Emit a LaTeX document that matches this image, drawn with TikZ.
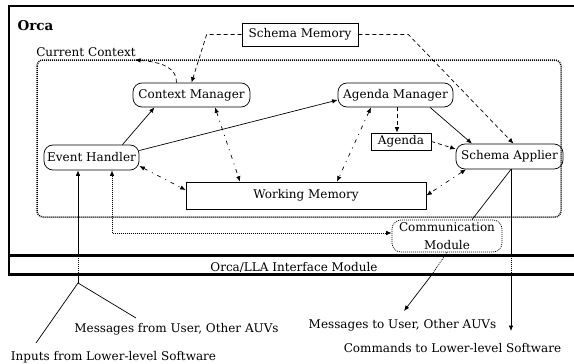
\documentclass[tikz,border=0pt]{standalone}
\usepackage{fontspec}
\setmainfont{DejaVu Serif}
\usetikzlibrary{arrows.meta}
\tikzset{
    txt/.style={font=\fontsize{12}{18}\selectfont, inner sep=0pt},
    box/.style={txt, draw, line width=0.7pt, minimum height=24pt},
    proc/.style={box, rounded corners=9pt},
    tip/.style={-{Latex[length=5.5pt,width=4.5pt]}},
    tips/.style={{Latex[length=5.5pt,width=4.5pt]}-{Latex[length=5.5pt,width=4.5pt]}},
    dsh/.style={dash pattern=on 4pt off 3pt},
    dashdot/.style={dash pattern=on 4pt off 5pt on 1pt off 5pt},
    fine/.style={dash pattern=on 1pt off 1pt},
    frame/.style={line width=2.5pt},
    every path/.style={line width=0.7pt},
}

\begin{document}
\begin{tikzpicture}[x=1pt, y=-1pt]
    \useasboundingbox (0,0) rectangle (574,364);
    \draw[frame] (9,6) rectangle (590,255.5);
    \draw[frame] (9,255.5) rectangle (590,274.5);
    \draw[fine, line width=1.5pt, rounded corners=6pt] (37,60) rectangle (561,217);
    \coordinate (iftop) at (0,255.5);
    \coordinate (ifbot) at (0,274.5);

    \node[txt, font=\fontsize{13.5}{16}\selectfont\bfseries] (orca) at (35.5,26) {Orca};
    \node[txt] (curctx) at (86,52) {Current Context};
    \node[txt] (lla) at (294,267) {Orca/LLA Interface Module};

    \node[box, minimum width=116pt, minimum height=23pt] (schmem) at (300,34.5) {Schema Memory};
    \node[proc, minimum width=117pt] (ctxman) at (191.5,95) {Context Manager};
    \node[proc, minimum width=115pt] (agman) at (395.5,95) {Agenda Manager};
    \node[proc, minimum width=95pt, minimum height=25pt] (evh) at (91.5,157.5) {Event Handler};
    \node[box, minimum width=60pt, minimum height=17pt] (agenda) at (401,141.5) {Agenda};
    \node[proc, minimum width=107pt, minimum height=25pt] (schapp) at (509.5,156.5) {Schema Applier};
    \node[box, minimum width=240pt, minimum height=27pt] (wm) at (306,195.5) {Working Memory};
    \node[box, fine, rounded corners=9pt, minimum width=110pt, minimum height=32pt, align=center] (comm) at (447,236) {Communication\\Module};

    \node[txt] (msgin) at (176.5,329) {Messages from User, Other AUVs};
    \node[txt] (inputs) at (113.5,357) {Inputs from Lower-level Software};
    \node[txt] (msgout) at (402.5,325) {Messages to User, Other AUVs};
    \node[txt] (cmds) at (452.5,348) {Commands to Lower-level Software};

    \coordinate (cctip) at (135,60);
    \coordinate (fork) at (78,283);
    \coordinate (intip) at (36,343);
    \coordinate (msgintip) at (136,318);
    \coordinate (msgmid) at (432,274.5);
    \coordinate (msgtip) at (404,311);
    \coordinate (cmdtip) at (511,331);

    \draw[dsh, tip] (schmem.west) -- ++(-35,0) -- (ctxman.north);
    \draw[dsh, tip] (schmem.east) -- ++(50,0) -- ([xshift=4pt]schapp.north);
    \draw[dsh, tip] ([xshift=-15pt]ctxman.north) .. controls (177,68) and (162,62) .. (cctip);
    \draw[tip] ([xshift=31pt]evh.north) -- ([xshift=-37pt]ctxman.south);
    \draw[tip] ([yshift=7pt]evh.east) -- ([yshift=-5pt]agman.west);
    \draw[tip] ([xshift=34.5pt]agman.south) -- ([xshift=-37.5pt]schapp.north);
    \draw[dsh, tip] ([xshift=1.5pt]agman.south) -- ([xshift=-4pt]agenda.north);
    \draw[dsh, tip] (agenda.east) -- ([yshift=7.5pt]schapp.west);

    \draw[dashdot, tips] ([xshift=23.5pt]ctxman.south) -- ([xshift=-66pt]wm.north);
    \draw[dashdot, tips] ([xshift=-24.5pt]agman.south) -- ([xshift=31pt]wm.north);
    \draw[dashdot, tips] ([yshift=-8.5pt]evh.east) -- ([yshift=5.5pt]wm.west);
    \draw[dashdot, tips] ([xshift=-43.5pt]schapp.south) -- (wm.east);

    \draw ([xshift=1.5pt]schapp.south) -- ([xshift=25pt]comm.north);
    \draw ([xshift=1.5pt]schapp.south) -- (cmdtip |- iftop);
    \draw[fine] (cmdtip |- iftop) -- (cmdtip |- ifbot);
    \draw[tip] (cmdtip |- ifbot) -- (cmdtip);
    \draw[fine] (comm.south) -- (msgmid);
    \draw[tip] (msgmid) -- (msgtip);

    \draw[fine, tips] ([xshift=20.5pt]evh.south) |- ([yshift=3pt]comm.west);
    \draw (intip) -- (fork) -- (msgintip);
    \draw (fork) -- (fork |- ifbot);
    \draw[fine] (fork |- ifbot) -- (fork |- iftop);
    \draw[tip] (fork |- iftop) -- ([xshift=-13.5pt]evh.south);
\end{tikzpicture}
\end{document}
